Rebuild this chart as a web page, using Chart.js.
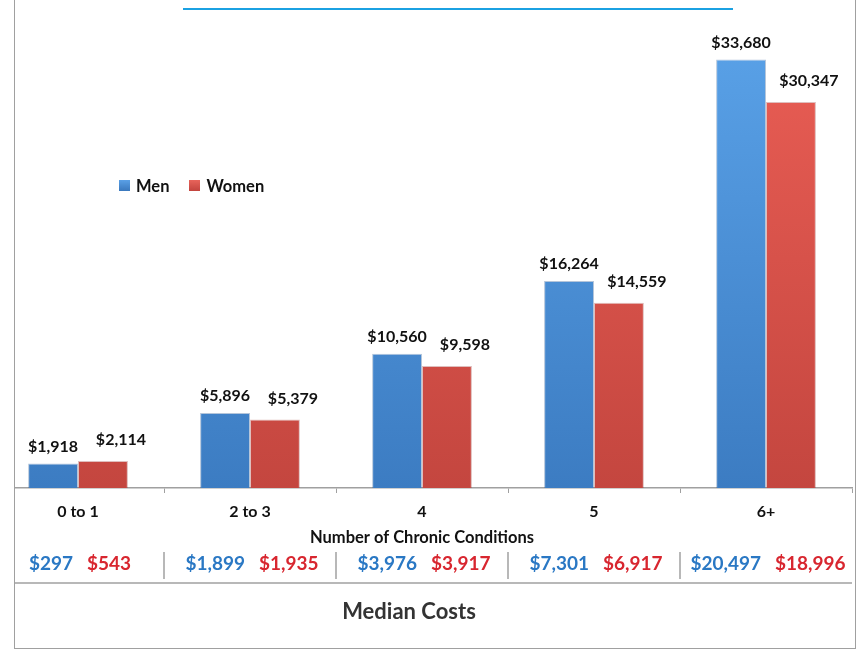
<!DOCTYPE html>
<html>
<head>
<meta charset="utf-8">
<script src="https://cdn.jsdelivr.net/npm/chart.js@4/dist/chart.umd.min.js"></script>
<style>
  body { margin: 0; background: #fff; font-family: Lato, sans-serif; }
  #marco { position: absolute; left: 14px; top: 0; width: 840px; height: 648px;
           border: 1px solid #a0a0a0; border-top: none; overflow: hidden; }
  #lienzo { position: absolute; left: -23px; top: 0; width: 868px; height: 648px; }
  #linea-azul { position: absolute; left: 183px; top: 8px; width: 550px; height: 2px; background: #1ba1e2; }
  #leyenda { position: absolute; left: 119px; top: 175px; font: bold 16.5px Lato, sans-serif; color: #111; }
  #leyenda span.item { display: inline-flex; align-items: center; margin-right: 20px; }
  #leyenda i { display: inline-block; width: 11px; height: 11px; margin-right: 6px; }
</style>
</head>
<body>
<div id="marco">
  <div id="lienzo"><canvas id="grafico"></canvas></div>
</div>
<div id="linea-azul"></div>
<div id="leyenda"></div>

<script>
const categorias = ['0 to 1', '2 to 3', '4', '5', '6+']
const series = ['Men', 'Women']
const costosHombres = [1918, 5896, 10560, 16264, 33680]
const costosMujeres = [2114, 5379, 9598, 14559, 30347]
const medianaHombres = [297, 1899, 3976, 7301, 20497]
const medianaMujeres = [543, 1935, 3917, 6917, 18996]
const tituloEje = 'Number of Chronic Conditions'
const tituloTabla = 'Median Costs'

const azulTexto = '#2a78c4'
const rojoTexto = '#d8262f'

const fmt = v => '$' + v.toLocaleString('en-US')

// Leyenda en HTML
const leyenda = document.getElementById('leyenda')
series.forEach((nombre, i) => {
  const s = document.createElement('span')
  s.className = 'item'
  const col = i === 0 ? 'linear-gradient(#5aa0e6,#3a78bd)' : 'linear-gradient(#e8645b,#c2443e)'
  s.innerHTML = `<i style="background:${col}"></i>${nombre}`
  leyenda.appendChild(s)
})

function degradado(ctx, arriba, abajo) {
  const area = ctx.chart.chartArea
  if (!area) return arriba
  const g = ctx.chart.ctx.createLinearGradient(0, area.top, 0, area.bottom)
  g.addColorStop(0, arriba)
  g.addColorStop(1, abajo)
  return g
}

// Etiquetas encima de las barras
const etiquetasBarras = {
  id: 'etiquetasBarras',
  afterDatasetsDraw(chart) {
    const c = chart.ctx
    c.save()
    c.font = 'bold 16px Lato, sans-serif'
    c.fillStyle = '#111'
    c.textAlign = 'center'
    c.textBaseline = 'middle'
    chart.data.datasets.forEach((ds, di) => {
      chart.getDatasetMeta(di).data.forEach((bar, i) => {
        const dx = di === 0 ? 0 : 18
        const dy = di === 0 ? 17 : 21
        c.fillText(fmt(ds.data[i]), bar.x + dx, bar.y - dy)
      })
    })
    c.restore()
  }
}

// Fila de medianas y título inferior
const tablaMedianas = {
  id: 'tablaMedianas',
  afterDraw(chart) {
    const c = chart.ctx
    const x = chart.scales.x
    const area = chart.chartArea
    c.save()
    c.font = 'bold 19px Lato, sans-serif'
    c.textBaseline = 'middle'
    const yFila = 564
    categorias.forEach((cat, i) => {
      const cx = x.getPixelForValue(i)
      c.textAlign = 'right'
      c.fillStyle = azulTexto
      c.fillText(fmt(medianaHombres[i]), cx - 5, yFila)
      c.textAlign = 'left'
      c.fillStyle = rojoTexto
      c.fillText(fmt(medianaMujeres[i]), cx + 9, yFila)
      if (i > 0) {
        const bx = (x.getPixelForValue(i - 1) + cx) / 2
        c.strokeStyle = '#a0a0a0'
        c.lineWidth = 1.5
        c.beginPath()
        c.moveTo(bx, 552)
        c.lineTo(bx, 579)
        c.stroke()
      }
    })
    c.strokeStyle = '#a0a0a0'
    c.lineWidth = 1.5
    c.beginPath()
    c.moveTo(22, 583)
    c.lineTo(area.right, 583)
    c.stroke()
    c.font = 'bold 22px Lato, sans-serif'
    c.fillStyle = '#333'
    c.textAlign = 'center'
    c.fillText(tituloTabla, 417, 612)
    c.restore()
  }
}

new Chart(document.getElementById('grafico'), {
  type: 'bar',
  data: {
    labels: categorias,
    datasets: [
      {
        label: series[0],
        data: costosHombres,
        backgroundColor: ctx => degradado(ctx, '#5aa2e8', '#3c7cc2'),
        borderColor: 'rgba(40,90,150,0.35)',
        borderWidth: 1
      },
      {
        label: series[1],
        data: costosMujeres,
        backgroundColor: ctx => degradado(ctx, '#ea5e55', '#c4463f'),
        borderColor: 'rgba(150,40,35,0.3)',
        borderWidth: 1
      }
    ]
  },
  options: {
    responsive: true,
    maintainAspectRatio: false,
    animation: false,
    categoryPercentage: 0.58,
    barPercentage: 1.0,
    layout: { padding: { left: 0, right: 8, top: 30, bottom: 0 } },
    plugins: { legend: { display: false }, tooltip: { enabled: false } },
    scales: {
      x: {
        afterFit: s => { s.height = 160 },
        grid: { drawOnChartArea: false, tickLength: 5, color: '#a0a0a0' },
        border: { color: '#a0a0a0', width: 1.5 },
        ticks: { color: '#111', font: { family: 'Lato', weight: 'bold', size: 16 }, padding: 9 },
        title: {
          display: true,
          text: tituloEje,
          color: '#111',
          font: { family: 'Lato', weight: 'bold', size: 16.5 },
          padding: { top: 0, bottom: 100 }
        }
      },
      y: { display: false, min: 0, max: 36000 }
    }
  },
  plugins: [etiquetasBarras, tablaMedianas]
})
</script>
</body>
</html>
